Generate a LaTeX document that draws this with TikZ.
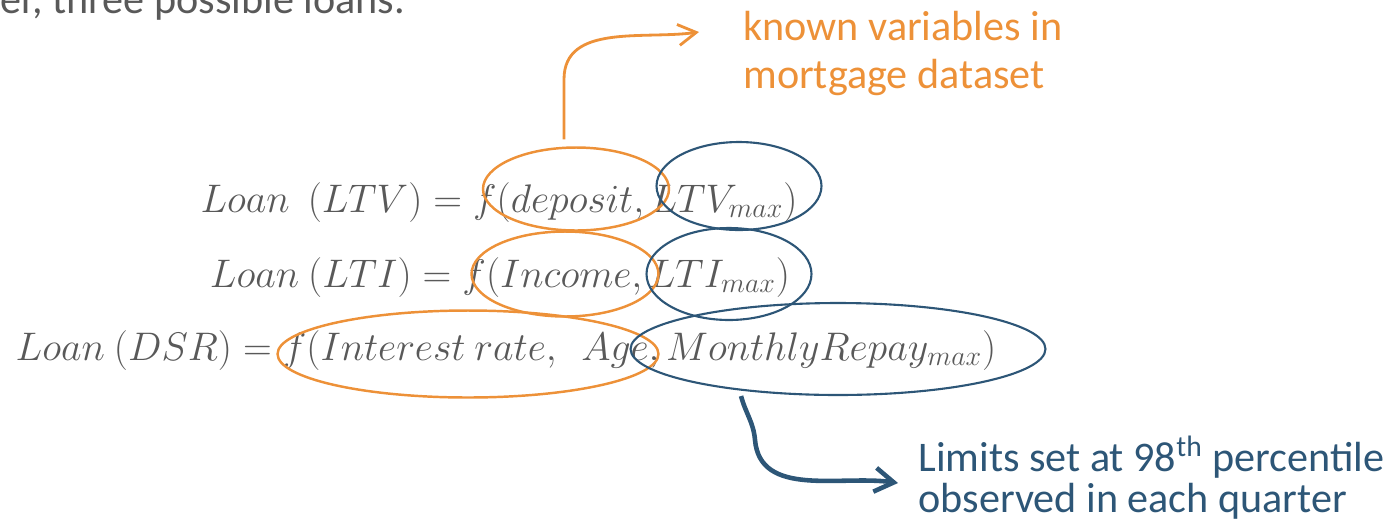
\RequirePackage{fix-cm}
\documentclass[tikz,border=0pt]{standalone}
\usepackage[no-math]{fontspec}
\setmainfont{Carlito}
\usepackage{tikz}
\usetikzlibrary{shapes.geometric, arrows.meta}
\definecolor{mortorange}{RGB}{237,145,56}
\definecolor{limitblue}{RGB}{45,86,119}
\definecolor{textgray}{RGB}{89,89,89}
\tikzstyle{eqn} = [anchor=base, inner sep=0pt, 
text=textgray, 
font=\fontsize{22.7}{27}\selectfont]
\tikzstyle{knownvar} = [ellipse, inner sep=0pt, 
draw=mortorange, 
line width=1.4pt]
\tikzstyle{limitvar} = [ellipse, inner sep=0pt, 
draw=limitblue, 
line width=1.2pt]
\tikzstyle{note} = [anchor=base west, inner sep=0pt, align=left]

\begin{document}
\begin{tikzpicture}[x=0.02cm, y=0.02cm]
\useasboundingbox (0,0) rectangle (1391,-528);

\node (intro) [anchor=base west, inner sep=0pt, text=textgray, font=\fontsize{24}{28}\selectfont] at (0,-13.5) {er, three possible loans.};

% the three loan limits
\node (eqltv) [eqn] at (499,-212) {$Loan\ \ (LTV) = f(deposit, LTV_{max})$};
\node (eqlti) [eqn] at (500,-287) {$Loan\ (LTI) = f(Income, LTI_{max})$};
\node (eqdsr) [eqn] at (506,-360) {$Loan\ (DSR) = f(Interest\ rate,\ \ Age, MonthlyRepay_{max})$};

% variables taken from the data
\node (dep) [knownvar, minimum width=3.72cm, minimum height=1.66cm] at (576,-189) {};
\node (inc) [knownvar, minimum width=3.74cm, minimum height=1.70cm] at (565,-274) {};
\node (rate) [knownvar, minimum width=7.62cm, minimum height=1.74cm] at (468,-354) {};

% the max limits
\node (ltv) [limitvar, minimum width=3.30cm, minimum height=1.76cm] at (739,-186) {};
\node (lti) [limitvar, minimum width=3.30cm, minimum height=1.84cm] at (729,-274) {};
\node (rep) [limitvar, minimum width=8.30cm, minimum height=1.84cm] at (838,-349) {};

% base of a two-line note is its second line
\node (known) [note, text=mortorange, font=\fontsize{24}{27.3}\selectfont] at (743,-88) {known variables in\\mortgage dataset};
\node (limits) [note, text=limitblue, font=\fontsize{24}{22.8}\selectfont] at (918,-512) {Limits set at 98\textsuperscript{th} percentile\\observed in each quarter};

\draw[mortorange, line width=1.6pt, -{Straight Barb[length=3.6mm, width=4.2mm]}] ([xshift=-0.24cm, yshift=0.14cm]dep.north) -- ++(0,60) to[out=90, in=188] ([xshift=-0.88cm, yshift=1.12cm]known.base west);
\draw[limitblue, line width=2.6pt, -{Straight Barb[length=3.8mm, width=4.8mm]}] ([xshift=-1.94cm]rep.south) to[out=-75, in=95] (755,-440) to[out=-85, in=172] ([xshift=-0.4cm, yshift=0.58cm]limits.base west);

\end{tikzpicture}
\end{document}
